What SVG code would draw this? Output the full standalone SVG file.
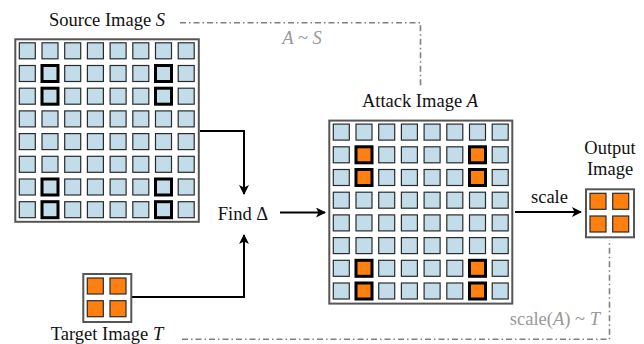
<svg xmlns="http://www.w3.org/2000/svg" xmlns:xlink="http://www.w3.org/1999/xlink" width="644" height="344" viewBox="0 0 644 344">
<style>
.frame{fill:#fff;stroke:#555;stroke-width:2}
.c{fill:#c2dde9;stroke:#2a2a2a;stroke-width:1.2}
.b{stroke:#000;stroke-width:3}
.o{fill:#ff8010}
.lbl{font-family:"Liberation Serif","DejaVu Serif",serif;font-size:18.5px;fill:#111}
.gl{font-family:"Liberation Serif","DejaVu Serif",serif;font-size:18.5px;fill:#999}
.it{font-style:italic}
.conn{fill:none;stroke:#000;stroke-width:2}
.dd{fill:none;stroke:#808080;stroke-width:1.6;stroke-dasharray:6 3 1.5 3}
</style>
<defs>
<marker id="ah" viewBox="0 0 10 10" refX="9" refY="5" markerWidth="5" markerHeight="5" orient="auto" markerUnits="strokeWidth">
<path d="M0,0 L10,5 L0,10 L2.5,5 Z" fill="#000"/>
</marker>
<g id="rowN">
<rect class="c" x="4" y="0" width="16" height="16"/>
<rect class="c" x="26.7" y="0" width="16" height="16"/>
<rect class="c" x="49.4" y="0" width="16" height="16"/>
<rect class="c" x="72.1" y="0" width="16" height="16"/>
<rect class="c" x="94.8" y="0" width="16" height="16"/>
<rect class="c" x="117.5" y="0" width="16" height="16"/>
<rect class="c" x="140.2" y="0" width="16" height="16"/>
<rect class="c" x="162.9" y="0" width="16" height="16"/>
</g>
<g id="rowS">
<rect class="c" x="4" y="0" width="16" height="16"/>
<rect class="c b" x="26.7" y="0" width="16" height="16"/>
<rect class="c" x="49.4" y="0" width="16" height="16"/>
<rect class="c" x="72.1" y="0" width="16" height="16"/>
<rect class="c" x="94.8" y="0" width="16" height="16"/>
<rect class="c" x="117.5" y="0" width="16" height="16"/>
<rect class="c b" x="140.2" y="0" width="16" height="16"/>
<rect class="c" x="162.9" y="0" width="16" height="16"/>
</g>
<g id="rowA">
<rect class="c" x="4" y="0" width="16" height="16"/>
<rect class="c b o" x="26.7" y="0" width="16" height="16"/>
<rect class="c" x="49.4" y="0" width="16" height="16"/>
<rect class="c" x="72.1" y="0" width="16" height="16"/>
<rect class="c" x="94.8" y="0" width="16" height="16"/>
<rect class="c" x="117.5" y="0" width="16" height="16"/>
<rect class="c b o" x="140.2" y="0" width="16" height="16"/>
<rect class="c" x="162.9" y="0" width="16" height="16"/>
</g>
<g id="small">
<rect class="frame" x="0" y="0" width="48" height="48"/>
<rect class="c o" x="4" y="4" width="16" height="16"/>
<rect class="c o" x="26.7" y="4" width="16" height="16"/>
<rect class="c o" x="4" y="26.7" width="16" height="16"/>
<rect class="c o" x="26.7" y="26.7" width="16" height="16"/>
</g>
</defs>

<g id="connectors">
<path class="dd" d="M180,22.7 H420.5 V86"/>
<path class="dd" d="M182,339.3 H609.5 V240"/>
<path class="conn" d="M200,131 H244 V194" marker-end="url(#ah)"/>
<path class="conn" d="M131,297 H244 V235" marker-end="url(#ah)"/>
<path class="conn" d="M280,212.5 H325" marker-end="url(#ah)"/>
<path class="conn" d="M515,212 H581" marker-end="url(#ah)"/>
</g>

<g id="source">
<rect class="frame" x="15.3" y="39.3" width="183.5" height="182.5"/>
<g transform="translate(15.3,42.8)">
<use xlink:href="#rowN"/>
<use xlink:href="#rowS" y="22.7"/>
<use xlink:href="#rowS" y="45.4"/>
<use xlink:href="#rowN" y="68.1"/>
<use xlink:href="#rowN" y="90.8"/>
<use xlink:href="#rowN" y="113.5"/>
<use xlink:href="#rowS" y="136.2"/>
<use xlink:href="#rowS" y="158.9"/>
</g>
<text class="lbl" x="107" y="26" text-anchor="middle">Source Image <tspan class="it">S</tspan></text>
</g>

<g id="attack">
<rect class="frame" x="329.3" y="120.6" width="183" height="183"/>
<g transform="translate(329.3,124.1)">
<use xlink:href="#rowN"/>
<use xlink:href="#rowA" y="22.7"/>
<use xlink:href="#rowA" y="45.4"/>
<use xlink:href="#rowN" y="68.1"/>
<use xlink:href="#rowN" y="90.8"/>
<use xlink:href="#rowN" y="113.5"/>
<use xlink:href="#rowA" y="136.2"/>
<use xlink:href="#rowA" y="158.9"/>
</g>
<text class="lbl" x="420" y="107" text-anchor="middle">Attack Image <tspan class="it">A</tspan></text>
</g>

<g id="target">
<use xlink:href="#small" x="83.3" y="274"/>
<text class="lbl" x="107" y="340" text-anchor="middle">Target Image <tspan class="it">T</tspan></text>
</g>

<g id="output">
<use xlink:href="#small" x="586" y="189.3"/>
<text class="lbl" x="610" y="154" text-anchor="middle">Output</text>
<text class="lbl" x="610" y="175" text-anchor="middle">Image</text>
</g>

<g id="findDelta">
<text class="lbl" x="243" y="220" text-anchor="middle">Find Δ</text>
</g>

<g id="labels">
<text class="lbl" x="549.5" y="203" text-anchor="middle">scale</text>
<text class="gl it" x="302" y="43.5" text-anchor="middle">A ~ S</text>
<text class="gl" x="600" y="325" text-anchor="end">scale(<tspan class="it">A</tspan>) ~ <tspan class="it">T</tspan></text>
</g>
</svg>
